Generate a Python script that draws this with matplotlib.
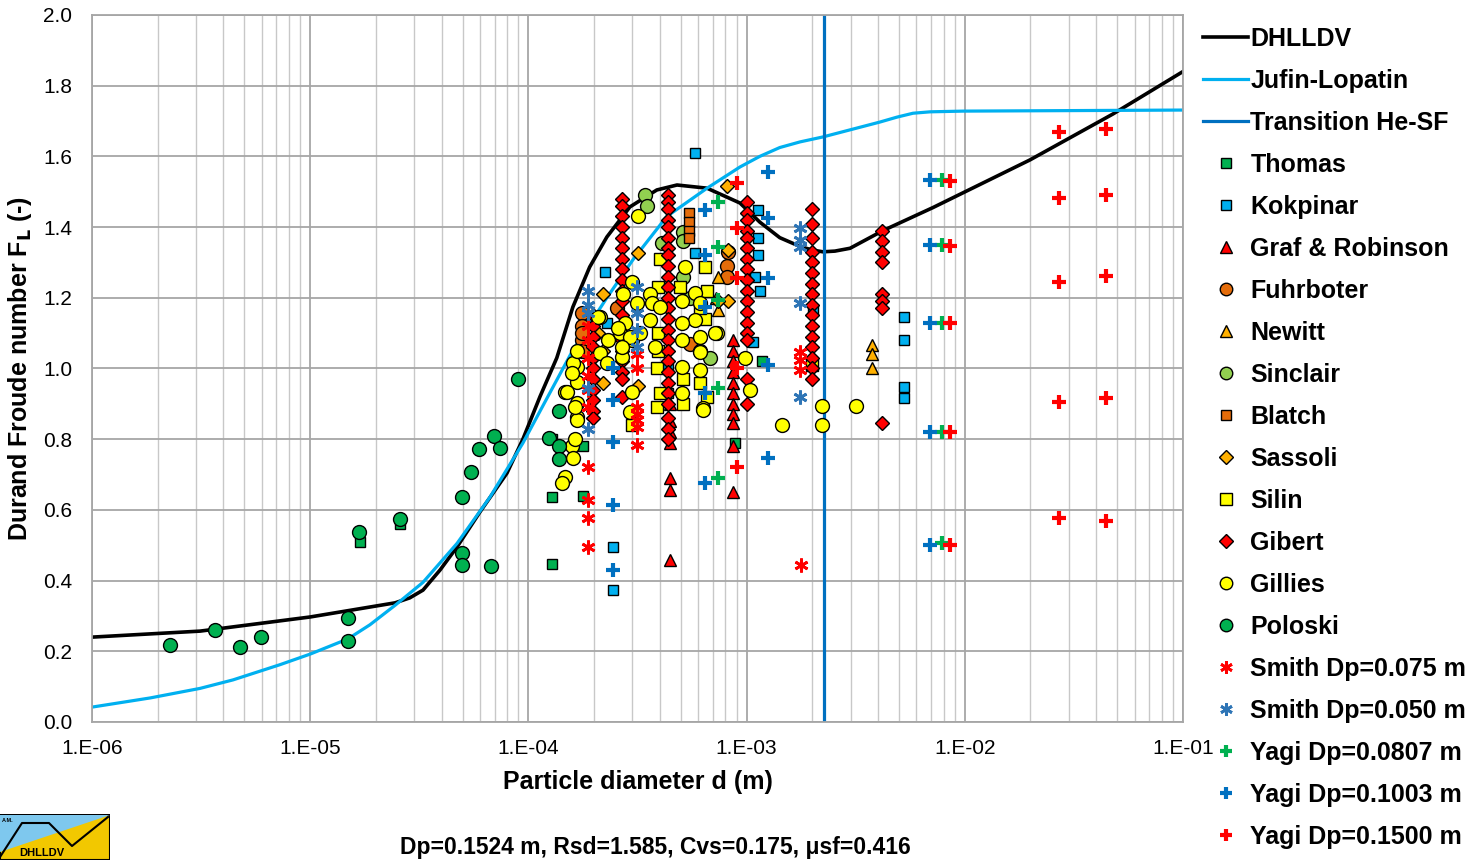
import numpy as np
import matplotlib.pyplot as plt
from matplotlib.patches import Polygon, Rectangle

plt.rcParams['font.family'] = ['Liberation Sans', 'DejaVu Sans']

# model curves
dhlldv_d = [1.0e-6, 3.13e-6, 1.0e-5, 2.45e-5, 2.86e-5, 3.29e-5, 3.94e-5, 4.71e-5, 6.0e-5, 7.98e-5,
            9.44e-5, 1.13e-4, 1.35e-4, 1.60e-4, 1.91e-4, 2.29e-4, 2.92e-4, 3.88e-4, 4.80e-4,
            6.59e-4, 9.33e-4, 1.15e-3, 1.42e-3, 1.76e-3, 2.0e-3, 2.24e-3, 2.54e-3, 2.98e-3,
            4.22e-3, 7.14e-3, 9.82e-3, 1.99e-2, 4.78e-2, 1.0e-1]
dhlldv_fl = [0.24, 0.257, 0.297, 0.337, 0.351, 0.373, 0.43, 0.495, 0.594, 0.704,
             0.80, 0.92, 1.03, 1.174, 1.287, 1.372, 1.457, 1.505, 1.519,
             1.51, 1.468, 1.414, 1.37, 1.345, 1.335, 1.33, 1.332, 1.34,
             1.39, 1.455, 1.497, 1.59, 1.72, 1.84]

jufin_d = [1.0e-6, 1.85e-6, 3.13e-6, 4.43e-6, 7.27e-6, 1.0e-5, 1.49e-5, 1.88e-5, 2.45e-5,
           3.29e-5, 4.71e-5, 6.67e-5, 9.44e-5, 1.22e-4, 1.60e-4, 2.29e-4, 3.01e-4, 4.31e-4,
           6.59e-4, 9.33e-4, 1.15e-3, 1.42e-3, 1.76e-3, 2.24e-3, 2.98e-3, 4.08e-3, 4.89e-3,
           5.79e-3, 6.94e-3, 9.82e-3, 1.0e-1]
jufin_fl = [0.042, 0.068, 0.095, 0.119, 0.162, 0.192, 0.235, 0.275, 0.33,
            0.395, 0.505, 0.636, 0.789, 0.917, 1.052, 1.20, 1.307, 1.43,
            1.51, 1.57, 1.60, 1.625, 1.641, 1.655, 1.675, 1.697, 1.711,
            1.722, 1.726, 1.728, 1.731]

transition_d = [2.26e-3, 2.26e-3]
transition_fl = [0.0, 2.0]

# measurements
thomas_d = [1.69e-5, 2.58e-5, 1.28e-4, 1.28e-4, 1.28e-4, 1.78e-4, 1.78e-4, 8.85e-4, 1.18e-3]
thomas_fl = [0.51, 0.56, 0.447, 0.637, 0.80, 0.64, 0.78, 0.79, 1.02]

kokpinar_d = [5.81e-4, 2.24e-4, 2.29e-4, 5.81e-4, 1.13e-3, 1.13e-3, 1.13e-3, 1.09e-3, 1.15e-3,
              1.07e-3, 2.44e-4, 2.44e-4, 2.01e-3, 5.26e-3, 5.26e-3, 5.26e-3, 5.26e-3, 1.78e-4,
              4.37e-4, 4.37e-4]
kokpinar_fl = [1.61, 1.273, 1.13, 1.327, 1.448, 1.369, 1.32, 1.26, 1.22,
               1.075, 0.495, 0.373, 1.165, 1.146, 1.08, 0.948, 0.917, 1.07,
               1.0, 0.93]

graf_d = [4.46e-4, 4.46e-4, 4.46e-4, 4.46e-4, 4.46e-4, 4.46e-4, 4.46e-4,
          8.67e-4, 8.67e-4, 8.67e-4, 8.67e-4, 8.67e-4, 8.67e-4, 8.67e-4, 8.67e-4, 8.67e-4,
          8.67e-4, 8.67e-4]
graf_fl = [0.90, 0.85, 0.82, 0.79, 0.69, 0.656, 0.458,
           1.08, 1.05, 1.02, 0.99, 0.96, 0.93, 0.90, 0.87, 0.845,
           0.78, 0.65]

fuhrboter_d = [1.76e-4, 1.76e-4, 1.76e-4, 1.76e-4, 1.76e-4, 2.55e-4, 5.50e-4, 8.13e-4, 8.13e-4, 8.22e-4]
fuhrboter_fl = [1.157, 1.12, 1.08, 1.05, 1.10, 1.17, 1.07, 1.29, 1.26, 1.33]

newitt_d = [3.76e-3, 3.76e-3, 3.76e-3, 7.39e-4, 7.39e-4, 7.25e-4]
newitt_fl = [1.066, 1.04, 1.0, 1.26, 1.165, 1.20]

sinclair_d = [3.42e-4, 3.50e-4, 5.11e-4, 5.11e-4, 4.09e-4, 5.11e-4, 6.79e-4, 6.11e-4, 5.50e-4]
sinclair_fl = [1.49, 1.46, 1.386, 1.36, 1.355, 1.26, 1.03, 1.05, 1.20]

blatch_d = [5.45e-4, 5.45e-4, 5.45e-4, 5.45e-4]
blatch_fl = [1.44, 1.415, 1.39, 1.37]

sassoli_d = [8.13e-4, 8.22e-4, 8.22e-4, 3.18e-4, 2.20e-4, 2.20e-4, 2.19e-4, 3.18e-4, 7.39e-4, 2.08e-4]
sassoli_fl = [1.515, 1.335, 1.19, 1.327, 1.21, 1.05, 0.96, 0.95, 1.19, 1.10]

silin_d = [4.01e-4, 3.92e-4, 4.95e-4, 6.44e-4, 6.44e-4, 3.92e-4, 3.88e-4, 4.01e-4, 5.11e-4,
           5.11e-4, 2.99e-4, 6.59e-4, 2.0e-3, 3.88e-4, 6.11e-4, 3.92e-4, 6.59e-4, 6.11e-4]
silin_fl = [1.31, 1.23, 1.23, 1.287, 1.14, 1.10, 1.00, 0.93, 0.97,
            0.90, 0.84, 0.92, 1.01, 0.89, 1.17, 1.05, 1.22, 0.96]

gibert_d = ([1.98e-4] * 11 + [2.69e-4] * 19 + [4.37e-4] * 25 + [1.0e-3] * 17
            + [2.0e-3] * 16 + [4.18e-3] * 8)
gibert_fl = [1.15, 1.12, 1.09, 1.06, 1.03, 1.0, 0.97, 0.94, 0.91, 0.88, 0.86,
             1.48, 1.46, 1.43, 1.40, 1.37, 1.34, 1.31, 1.28, 1.25, 1.22, 1.19, 1.15, 1.12,
             1.08, 1.05, 1.02, 0.99, 0.97, 0.92,
             1.49, 1.47, 1.45, 1.42, 1.40, 1.37, 1.34, 1.32, 1.29, 1.26, 1.23, 1.20, 1.17,
             1.14, 1.11, 1.08, 1.05, 1.02, 0.99, 0.96, 0.93, 0.90, 0.86, 0.83, 0.80,
             1.47, 1.44, 1.42, 1.39, 1.37, 1.34, 1.31, 1.28, 1.25, 1.22, 1.19, 1.16, 1.13,
             1.10, 1.08, 0.97, 0.90,
             1.45, 1.41, 1.37, 1.33, 1.30, 1.27, 1.24, 1.21, 1.18, 1.15, 1.12, 1.09, 1.06,
             1.03, 1.00, 0.97,
             1.39, 1.36, 1.33, 1.30, 1.21, 1.19, 1.17, 0.845]

gillies_d = [3.18e-4, 2.99e-4, 2.72e-4, 3.61e-4, 3.68e-4, 3.15e-4, 2.13e-4, 2.77e-4, 3.61e-4,
             4.01e-4, 5.22e-4, 5.06e-4, 5.80e-4, 6.11e-4, 5.80e-4, 5.06e-4, 7.31e-4, 6.11e-4,
             2.32e-4, 2.63e-4, 2.99e-4, 3.25e-4, 3.80e-4, 5.06e-4, 6.11e-4, 2.13e-4, 2.69e-4,
             2.29e-4, 1.67e-4, 5.06e-4, 1.67e-4, 1.47e-4, 1.67e-4, 1.67e-4, 2.99e-4, 5.06e-4,
             6.11e-4, 6.31e-4, 9.84e-4, 1.04e-3, 1.45e-3, 2.22e-3, 2.22e-3, 3.17e-3, 1.58e-4,
             1.60e-4, 1.47e-4, 1.43e-4, 1.67e-4, 1.64e-4, 2.92e-4, 6.31e-4, 2.58e-4, 2.92e-4,
             2.08e-4, 1.60e-4, 1.58e-4, 1.50e-4, 7.16e-4, 2.69e-4, 1.67e-4, 1.64e-4]
gillies_fl = [1.43, 1.245, 1.21, 1.21, 1.185, 1.185, 1.146, 1.13, 1.137,
              1.175, 1.287, 1.19, 1.214, 1.185, 1.137, 1.128, 1.10, 1.09,
              1.08, 1.10, 1.08, 1.10, 1.06, 1.08, 1.047, 1.044, 1.033,
              1.016, 1.004, 1.004, 0.962, 0.934, 0.902, 0.863, 0.934, 0.93,
              0.996, 0.888, 1.03, 0.94, 0.84, 0.895, 0.84, 0.895, 0.78,
              0.746, 0.694, 0.675, 0.855, 0.89, 0.877, 0.883, 1.115, 1.09,
              1.146, 1.016, 0.987, 0.934, 1.10, 1.06, 1.05, 0.80]

poloski_d = [2.28e-6, 3.66e-6, 4.77e-6, 5.96e-6, 1.49e-5, 1.49e-5, 1.68e-5, 2.58e-5, 4.97e-5,
             5.46e-5, 5.94e-5, 6.95e-5, 7.41e-5, 8.95e-5, 4.97e-5, 4.97e-5, 6.75e-5, 1.24e-4,
             1.38e-4, 1.38e-4, 1.38e-4]
poloski_fl = [0.218, 0.26, 0.212, 0.24, 0.294, 0.229, 0.537, 0.574, 0.637,
              0.707, 0.772, 0.81, 0.775, 0.97, 0.478, 0.444, 0.44, 0.803,
              0.78, 0.744, 0.88]

smith075_d = [1.87e-4] * 10 + [3.15e-4] * 7 + [1.76e-3] * 3 + [1.77e-3]
smith075_fl = [0.72, 0.628, 0.577, 0.495, 1.08, 1.03, 0.98, 0.94, 0.89, 1.12,
               0.784, 0.89, 0.87, 0.855, 0.835, 1.04, 1.0,
               1.047, 1.024, 0.996, 0.444]

smith050_d = [1.87e-4] * 5 + [3.15e-4] * 4 + [1.76e-3] * 5
smith050_fl = [1.22, 1.18, 1.157, 0.945, 0.83,
               1.23, 1.157, 1.11, 1.06,
               1.397, 1.363, 1.344, 1.185, 0.92]

yagi0807_d = [7.39e-4] * 5 + [7.87e-3] * 5
yagi0807_fl = [1.47, 1.344, 1.194, 0.945, 0.69, 1.533, 1.35, 1.13, 0.82, 0.506]

yagi1003_d = [6.44e-4] * 5 + [1.25e-3] * 5 + [2.44e-4] * 5 + [6.94e-3] * 5
yagi1003_fl = [1.448, 1.32, 1.174, 0.93, 0.676,
               1.556, 1.426, 1.256, 1.01, 0.747,
               1.0, 0.91, 0.792, 0.614, 0.43,
               1.533, 1.35, 1.129, 0.82, 0.50]

yagi1500_d = [9.04e-4] * 5 + [8.55e-3] * 5 + [2.70e-2] * 5 + [4.44e-2] * 5
yagi1500_fl = [1.525, 1.397, 1.256, 1.0, 0.722,
               1.53, 1.347, 1.129, 0.82, 0.50,
               1.67, 1.482, 1.245, 0.905, 0.577,
               1.677, 1.49, 1.262, 0.916, 0.569]

x_ticks = [1e-6, 1e-5, 1e-4, 1e-3, 1e-2, 1e-1]
x_ticklabels = ['1.E-06', '1.E-05', '1.E-04', '1.E-03', '1.E-02', '1.E-01']

fig = plt.figure(figsize=(14.78, 8.6), dpi=100)
ax = fig.add_axes([0.0622, 0.1605, 0.7382, 0.8221])

ax.plot(dhlldv_d, dhlldv_fl, color='black', lw=2.6, label='DHLLDV', zorder=2)
ax.plot(jufin_d, jufin_fl, color='#00B0F0', lw=2.3, label='Jufin-Lopatin', zorder=2)
ax.plot(transition_d, transition_fl, color='#0070C0', lw=2.3, label='Transition He-SF', zorder=2)

mk = dict(ls='none', markeredgecolor='black', markeredgewidth=1.0, zorder=3)
ax.plot(thomas_d, thomas_fl, marker='s', ms=7.5, markerfacecolor='#00B050', label='Thomas', **mk)
ax.plot(kokpinar_d, kokpinar_fl, marker='s', ms=7.5, markerfacecolor='#00B0F0', label='Kokpinar', **mk)
ax.plot(graf_d, graf_fl, marker='^', ms=9, markerfacecolor='#FF0000', label='Graf & Robinson', **mk)
ax.plot(fuhrboter_d, fuhrboter_fl, marker='o', ms=10, markerfacecolor='#E46C0A', label='Fuhrboter', **mk)
ax.plot(newitt_d, newitt_fl, marker='^', ms=9, markerfacecolor='#FFB000', label='Newitt', **mk)
ax.plot(sinclair_d, sinclair_fl, marker='o', ms=10, markerfacecolor='#92D050', label='Sinclair', **mk)
ax.plot(blatch_d, blatch_fl, marker='s', ms=7.5, markerfacecolor='#E46C0A', label='Blatch', **mk)
ax.plot(sassoli_d, sassoli_fl, marker='D', ms=7.5, markerfacecolor='#FFB000', label='Sassoli', **mk)
ax.plot(silin_d, silin_fl, marker='s', ms=9, markerfacecolor='#FFFF00', label='Silin', **mk)
ax.plot(gibert_d, gibert_fl, marker='D', ms=7.5, markerfacecolor='#FF0000', label='Gibert', **mk)
ax.plot(gillies_d, gillies_fl, marker='o', ms=10, markerfacecolor='#FFFF00', label='Gillies', **mk)
ax.plot(poloski_d, poloski_fl, marker='o', ms=10, markerfacecolor='#00B050', label='Poloski', **mk)

ast = (6, 2, 0)
ax.plot(smith075_d, smith075_fl, ls='none', marker=ast, ms=10, mew=2, color='#FF0000',
        label='Smith Dp=0.075 m', zorder=3)
ax.plot(smith050_d, smith050_fl, ls='none', marker=ast, ms=10, mew=2, color='#2E75B6',
        label='Smith Dp=0.050 m', zorder=3)
ax.plot(yagi0807_d, yagi0807_fl, ls='none', marker='+', ms=10, mew=3, color='#00B050',
        label='Yagi Dp=0.0807 m', zorder=3)
ax.plot(yagi1003_d, yagi1003_fl, ls='none', marker='+', ms=10, mew=3, color='#0070C0',
        label='Yagi Dp=0.1003 m', zorder=3)
ax.plot(yagi1500_d, yagi1500_fl, ls='none', marker='+', ms=10, mew=3, color='#FF0000',
        label='Yagi Dp=0.1500 m', zorder=3)

ax.set_xscale('log')
ax.set_xlim(1e-6, 1e-1)
ax.set_ylim(0, 2.0)
y_ticks = np.arange(0, 2.01, 0.2)
ax.set_yticks(y_ticks)
ax.set_yticklabels(['%.1f' % v for v in y_ticks])
ax.set_xticks(x_ticks)
ax.set_xticklabels(x_ticklabels)
ax.tick_params(axis='both', which='both', length=0, labelsize=15)
ax.tick_params(axis='x', pad=12)
ax.tick_params(axis='y', pad=14)
ax.grid(True, which='major', color='#A6A6A6', lw=1.3, zorder=0)
ax.grid(True, which='minor', axis='x', color='#C8C8C8', lw=1.0, zorder=0)
for s in ax.spines.values():
    s.set_color('#A6A6A6')
    s.set_linewidth(1.3)
ax.set_axisbelow(True)

ax.set_xlabel('Particle diameter d (m)', fontsize=18, fontweight='bold', labelpad=9)
ax.set_ylabel('Durand Froude number F$_\\mathbf{L}$ (-)', fontsize=18, fontweight='bold', labelpad=7)

fig.legend(loc='upper left', bbox_to_anchor=(0.8075, 0.980), frameon=False,
           prop={'weight': 'bold', 'size': 18}, handlelength=1.8,
           handletextpad=0.08, labelspacing=0.72, borderaxespad=0, numpoints=1,
           markerscale=0.9)

fig.text(0.4435, 0.014, 'Dp=0.1524 m, Rsd=1.585, Cvs=0.175, \u03bcsf=0.416',
         ha='center', va='center', fontsize=16.5, fontweight='bold')

# small logo bottom left
lax = fig.add_axes([0.0, 0.0, 110 / 1478, 46 / 860])
lax.set_xlim(0, 110)
lax.set_ylim(0, 46)
lax.axis('off')
lax.add_patch(Rectangle((0, 0), 110, 45, facecolor='#F2C800', edgecolor='black', lw=1.5))
lax.add_patch(Polygon([[0, 45], [110, 45], [0, 8]], closed=True, facecolor='#7EC8EE', edgecolor='none'))
lax.plot([0, 22, 49, 72, 108], [3, 37, 37, 14, 43], color='black', lw=1.5)
lax.text(42, 2, 'DHLLDV', fontsize=8, fontweight='bold', ha='center', va='bottom')
lax.text(2, 38, 'A.M.', fontsize=4, fontweight='bold')

fig.savefig('out.png', dpi=100)
